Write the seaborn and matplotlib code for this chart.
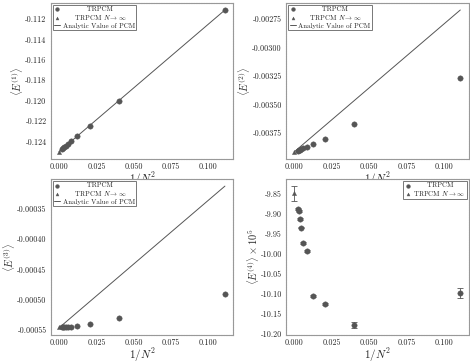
import numpy as np
import pandas as pd
import matplotlib
matplotlib.use("Agg")
import matplotlib.pyplot as plt
from matplotlib.ticker import MultipleLocator, FormatStrFormatter
import seaborn as sns

sns.set_style("white")
plt.rcParams["font.family"] = "serif"
plt.rcParams["font.serif"] = ["cmr10", "DejaVu Serif"]
plt.rcParams["mathtext.fontset"] = "cm"
plt.rcParams["axes.unicode_minus"] = False
plt.rcParams["axes.formatter.use_mathtext"] = False

# x values: 1/N^2 for N = 3, 5, ..., 21
inv_n2 = [0.11111, 0.04, 0.020408, 0.012346, 0.008264, 0.005917, 0.004444, 0.003460, 0.002770, 0.002268]

e1 = [-0.11111, -0.12000, -0.122449, -0.123457, -0.123967, -0.124260, -0.124444, -0.124567, -0.124654, -0.124717]
e1_inf = -0.12500
e1_pcm_x = [0.0, 0.11111]
e1_pcm_y = [-0.12500, -0.11111]

e2 = [-0.003271, -0.003676, -0.003800, -0.003851, -0.003872, -0.003885, -0.003893, -0.003899, -0.003903, -0.003906]
e2_inf = -0.003915
e2_pcm_x = [0.0, 0.11111]
e2_pcm_y = [-0.003915, -0.002672]

e3 = [-0.000491, -0.000531, -0.000541, -0.000544, -0.000545, -0.000545, -0.000546, -0.000546, -0.000546, -0.000546]
e3_inf = -0.000546
e3_pcm_x = [0.0, 0.11111]
e3_pcm_y = [-0.000547, -0.000312]

e4 = [-10.099, -10.178, -10.1255, -10.106, -9.9944, -9.974, -9.9356, -9.9136, -9.8946, -9.889]
e4_err = [0.013, 0.007, 0.003, 0.003, 0.002, 0.002, 0.002, 0.002, 0.002, 0.002]
e4_inf = -9.850
e4_inf_err = 0.018

grey = "#555555"
lab_pts = "          TRPCM"
lab_inf = r"     TRPCM $N\rightarrow\infty$"
lab_pcm = "Analytic Value of PCM"

fig, axes = plt.subplots(2, 2, figsize=(4.7, 3.64), dpi=100)
fig.subplots_adjust(left=0.108, right=0.997, top=0.992, bottom=0.08, wspace=0.29, hspace=0.13)

panels = [
    (axes[0, 0], e1, e1_inf, e1_pcm_x, e1_pcm_y, r"$\langle E^{(1)}\rangle$", 0.002, "%.3f"),
    (axes[0, 1], e2, e2_inf, e2_pcm_x, e2_pcm_y, r"$\langle E^{(2)}\rangle$", 0.00025, "%.5f"),
    (axes[1, 0], e3, e3_inf, e3_pcm_x, e3_pcm_y, r"$\langle E^{(3)}\rangle$", 0.00005, "%.5f"),
]

for ax, vals, inf, lx, ly, ylab, step, fmt in panels:
    df = pd.DataFrame({"x": inv_n2, "y": vals})
    sns.lineplot(x=lx, y=ly, ax=ax, color=grey, linewidth=0.7, label=lab_pcm, zorder=1)
    sns.scatterplot(data=df, x="x", y="y", ax=ax, color=grey, s=15, edgecolor=grey, linewidth=0.3, label=lab_pts, zorder=3)
    sns.scatterplot(x=[0.0], y=[inf], ax=ax, color=grey, marker="^", s=9, edgecolor=grey, linewidth=0.3,
                    label=lab_inf, zorder=3)
    ax.set_ylabel(ylab, fontsize=7.5, labelpad=0)
    ax.yaxis.set_major_locator(MultipleLocator(step))
    ax.yaxis.set_major_formatter(FormatStrFormatter(fmt))

# fourth panel with error bars
ax4 = axes[1, 1]
df4 = pd.DataFrame({"x": inv_n2, "y": e4, "err": e4_err})
ax4.errorbar(df4["x"], df4["y"], yerr=df4["err"], fmt="none", ecolor=grey, elinewidth=0.6, capsize=2, capthick=0.6)
sns.scatterplot(data=df4, x="x", y="y", ax=ax4, color=grey, s=15, edgecolor=grey, linewidth=0.3,
                label="      TRPCM", zorder=3)
ax4.errorbar([0.0], [e4_inf], yerr=[e4_inf_err], fmt="none", ecolor=grey, elinewidth=0.6, capsize=2, capthick=0.6)
sns.scatterplot(x=[0.0], y=[e4_inf], ax=ax4, color=grey, marker="^", s=9, edgecolor=grey, linewidth=0.3,
                label=r"TRPCM $N\rightarrow\infty$", zorder=3)
ax4.set_ylabel(r"$\langle E^{(4)}\rangle\times10^5$", fontsize=7.5, labelpad=0)
ax4.yaxis.set_major_locator(MultipleLocator(0.05))
ax4.yaxis.set_major_formatter(FormatStrFormatter("%.2f"))

for ax in axes.flat:
    ax.set_xticks([0.0, 0.025, 0.05, 0.075, 0.1])
    ax.set_xticklabels(["0.000", "0.025", "0.050", "0.075", "0.100"])
    ax.set_xlabel(r"$1/N^2$", fontsize=8, labelpad=-0.5)
    ax.tick_params(labelsize=5.8, length=2, width=0.5, pad=1, color="#888888")
    for s in ax.spines.values():
        s.set_color("#999999")
        s.set_linewidth(0.8)
        s.set_linestyle((0, (1, 0.5)))
    handles, labels = ax.get_legend_handles_labels()
    order = [l for l in labels if "TRPCM" in l and "N" not in l] + [l for l in labels if "N" in l] + \
            [l for l in labels if "Analytic" in l]
    hl = sorted(zip(handles, labels), key=lambda t: order.index(t[1]))
    loc = "upper right" if ax is ax4 else "upper left"
    leg = ax.legend([h for h, _ in hl], [l for _, l in hl], loc=loc, fontsize=5, frameon=True,
                    fancybox=False, edgecolor="#777777", framealpha=1, handlelength=0.9,
                    handletextpad=0.3, borderpad=0.2, labelspacing=0.1, borderaxespad=0.3,
                    markerscale=0.7)
    leg.get_frame().set_linewidth(0.7)

fig.savefig("out.png", dpi=100)
